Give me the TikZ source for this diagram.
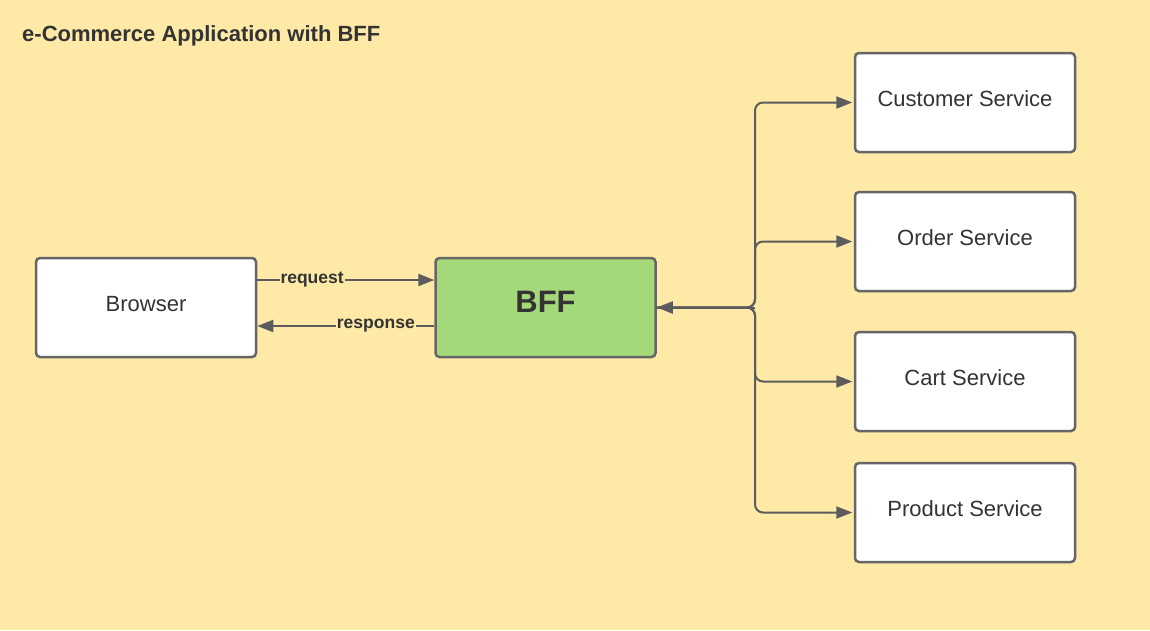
\documentclass[tikz,border=0pt]{standalone}
\usepackage{fontspec}
\setmainfont{Liberation Sans}
\usetikzlibrary{arrows.meta}
\definecolor{bg}{HTML}{FEE9A7}
\definecolor{bffgreen}{HTML}{A3D978}
\definecolor{linec}{HTML}{5C5C5C}
\definecolor{boxline}{HTML}{666666}
\definecolor{txt}{HTML}{333333}
\tikzset{
  svcbox/.style={draw=boxline, line width=2.5pt, fill=white, rounded corners=4pt,
    minimum width=220pt, minimum height=99pt, inner sep=0pt, text=txt,
    text height=16pt, text depth=8pt,
    font=\fontsize{22}{24}\selectfont},
  conn/.style={draw=linec, line width=2pt, -{Triangle[length=16pt,width=12pt]}},
  lbl/.style={fill=bg, inner sep=1pt, text=txt, font=\fontsize{17.5}{19}\selectfont\bfseries},
}
\begin{document}
\begin{tikzpicture}[x=1pt,y=-1pt]
\fill[bg] (0,0) rectangle (1150,630);
\useasboundingbox (0,0) rectangle (1150,630);
\node[anchor=west, text=txt, font=\fontsize{22}{24}\selectfont\bfseries, inner sep=0pt] (title) at (22,35.5) {e-Commerce Application with BFF};
\node[svcbox] (browser) at (146,307.5) {Browser};
\node[svcbox, fill=bffgreen, text height=23pt, text depth=14pt, font=\fontsize{31}{34}\selectfont\bfseries] (bff) at (545.5,307.5) {BFF};
\node[svcbox] (customer) at (965,102.5) {Customer Service};
\node[svcbox] (order) at (965,241.5) {Order Service};
\node[svcbox] (cart) at (965,381.5) {Cart Service};
\node[svcbox] (product) at (965,512.5) {Product Service};
\coordinate (trunk) at (755,307.5);
\draw[conn] (browser.east |- 0,280) -- node[lbl, pos=0.31] {request} (bff.west |- 0,280);
\draw[conn] (bff.west |- 0,326) -- node[lbl, pos=0.33] {response} (browser.east |- 0,326);
\draw[conn] (trunk) -- (bff.east);
\foreach \s in {customer,order,cart,product}{
  \draw[conn, shorten >=1.5pt, rounded corners=8pt] (bff.east) -- (trunk) |- (\s.west);
}
\end{tikzpicture}
\end{document}
